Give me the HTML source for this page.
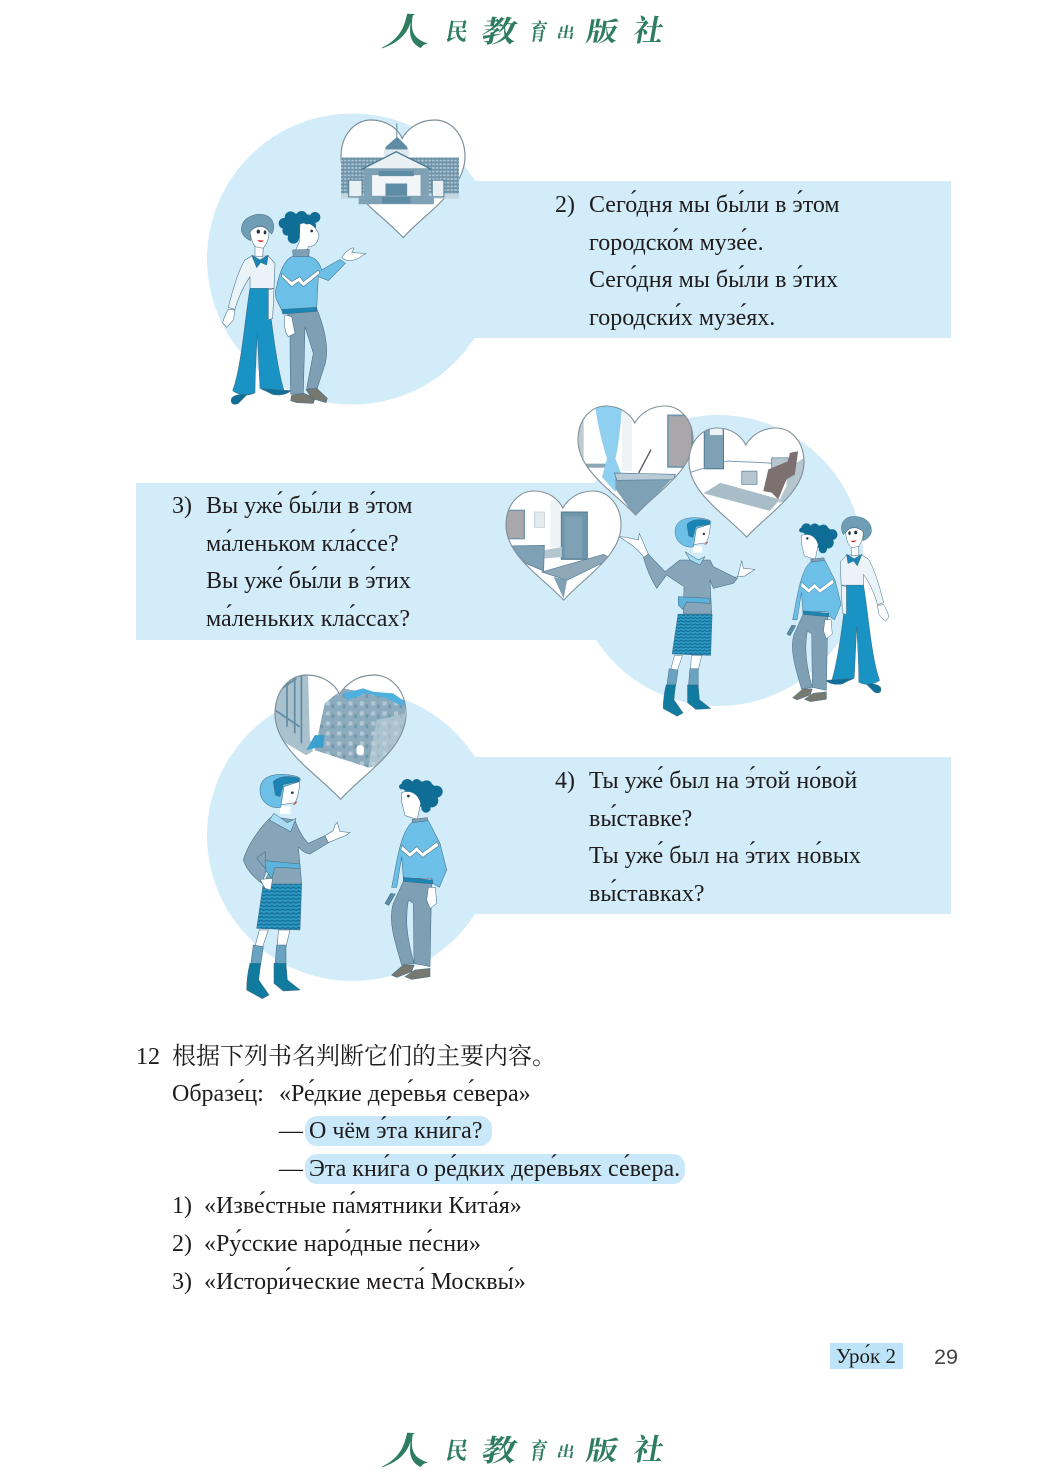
<!DOCTYPE html>
<html><head><meta charset="utf-8"><style>
html,body{margin:0;padding:0;background:#fff}
svg{display:block}
.t{font-family:"Liberation Serif","Noto Serif CJK SC",serif;font-size:24px;fill:#1f1c1d}
.c{font-family:"Liberation Serif","Noto Serif CJK SC",serif;font-size:24px;fill:#1f1c1d}
.l{font-family:"Noto Serif CJK SC","Liberation Serif",serif;fill:#2f7d60;font-weight:700}
</style></head><body>
<svg width="1043" height="1474" viewBox="0 0 1043 1474" xmlns="http://www.w3.org/2000/svg">
<defs>
<path id="h" d="M186,352 C120,280 0,210 0,110 C0,40 45,0 90,0 C135,0 170,25 183,55 C200,25 235,0 280,0 C330,0 371,45 371,110 C371,210 250,280 186,352Z"/>
<clipPath id="hc"><use href="#h"/></clipPath>
<pattern id="win" width="11" height="11" patternUnits="userSpaceOnUse"><rect width="11" height="11" fill="#6f94aa"/><rect x="2" y="3" width="7" height="5" fill="#b4c9d5"/></pattern>
<pattern id="city" width="34" height="30" patternUnits="userSpaceOnUse"><rect width="34" height="30" fill="#8cabbc"/><rect x="4" y="4" width="12" height="12" fill="#b4c8d3"/><rect x="21" y="13" width="8" height="11" fill="#6f96ab"/></pattern>
<pattern id="skirt" width="16" height="22" patternUnits="userSpaceOnUse"><rect width="16" height="22" fill="#2f9ac6"/><path d="M0,7 L8,2 L16,7 M0,18 L8,13 L16,18" stroke="#0f6a90" stroke-width="3.5" fill="none"/></pattern>

<g id="man" stroke="#3f6a82" stroke-width="1.6" stroke-linejoin="round">
<path d="M150,565 L205,565 C210,640 230,800 252,872 C230,882 200,877 180,865 L172,700 C168,770 165,830 165,878 C145,890 115,885 98,872 C125,800 135,650 150,565Z" fill="#1992c4"/>
<path d="M95,895 C100,885 130,880 140,885 L115,910 C100,917 90,910 95,895Z" fill="#0f6f9a"/>
<path d="M185,866 L240,870 L272,872 C260,885 230,888 215,882Z" fill="#0f6f9a"/>
<path d="M135,480 L155,468 L205,468 L225,490 L222,565 L150,565 L150,530 C130,560 115,590 105,628 L85,622 C95,580 115,510 135,480Z" fill="#e9f3f8"/>
<path d="M85,628 L105,630 L100,660 L80,682 L68,668 C72,650 78,640 85,628Z" fill="#fff"/>
<path d="M205,570 L222,565 L218,655 L205,660Z" fill="#e9f3f8"/>
<path d="M150,395 C165,375 195,375 207,395 C207,425 192,450 177,447 C162,442 152,420 150,395Z" fill="#fff"/>
<path d="M165,440 L190,445 L188,470 L165,468Z" fill="#fff"/>
<path d="M125,395 C120,355 160,338 195,345 C225,355 225,385 215,402 L205,392 C190,372 165,377 150,395 L152,422 C135,415 128,405 125,395Z" fill="#6f9db5"/>
<path d="M155,465 L180,480 L205,465 L200,495 L182,487 L170,503Z" fill="#1a85b5"/>
<ellipse cx="175" cy="395" rx="5" ry="6" fill="#234" stroke="none"/><ellipse cx="195" cy="397" rx="4" ry="6" fill="#234" stroke="none"/>
<path d="M172,420 Q182,432 192,422" fill="#c33" stroke="none"/>
</g>

<g id="boyA" stroke="#3f6a82" stroke-width="1.6" stroke-linejoin="round">
<path d="M250,630 L350,625 C372,680 388,740 376,790 L350,870 L320,865 L340,760 L315,680 L310,882 L272,882 C270,800 270,720 270,650Z" fill="#7f9fb5"/>
<path d="M275,885 L312,880 L345,895 L340,910 L290,908 L272,902Z" fill="#777870"/>
<path d="M318,868 L350,865 L382,895 L378,908 L335,895Z" fill="#777870"/>
<g fill="#0f6d96" stroke="none"><ellipse cx="298" cy="378" rx="50" ry="38"/><circle cx="252" cy="370" r="16"/><circle cx="272" cy="352" r="18"/><circle cx="262" cy="392" r="15"/><circle cx="280" cy="414" r="17"/></g>
<path d="M300,372 C320,364 345,370 357,405 C355,430 340,440 325,440 L320,455 L285,455 L298,425Z" fill="#fff"/>
<g fill="#0f6d96" stroke="none"><circle cx="305" cy="350" r="17"/><circle cx="345" cy="352" r="16"/><circle cx="322" cy="358" r="15"/></g>
<circle cx="335" cy="393" r="4" fill="#234" stroke="none"/>
<path d="M278,450 L328,448 L326,472 L280,476Z" fill="#7f9fb5"/>
<path d="M275,470 L325,470 C345,470 360,490 365,510 L420,478 L436,490 L385,542 L355,530 L350,625 L245,630 C230,600 220,590 230,560 C240,510 255,480 275,470Z" fill="#6cc0e8"/>
<path d="M245,520 L275,545 L300,530 L310,545 L355,510 L360,520 L310,560 L295,545 L275,560 L245,530Z" fill="#fff"/>
<path d="M245,628 L350,622 L350,634 L248,642Z" fill="#1a85b5"/>
<path d="M425,472 C440,450 460,440 462,445 L455,458 L498,460 L480,472 C460,484 440,487 425,472Z" fill="#fff"/>
<path d="M255,645 L275,650 L285,700 L265,710 C255,700 250,670 255,645Z" fill="#fff"/>
</g>

<g id="boyB" stroke="#3f6a82" stroke-width="1.6" stroke-linejoin="round">
<path d="M612,630 L695,630 L690,890 L642,880 L640,700 L625,690 C615,750 620,800 642,880 L605,885 C580,800 565,750 580,700Z" fill="#7f9fb5"/>
<path d="M575,915 L610,885 L642,885 L635,905 L590,922Z" fill="#777870"/>
<path d="M615,920 L645,900 L690,895 L690,920 L635,928Z" fill="#777870"/>
<g fill="#0f6d96" stroke="none"><ellipse cx="665" cy="372" rx="50" ry="38"/><circle cx="710" cy="365" r="18"/><circle cx="695" cy="392" r="20"/><circle cx="678" cy="414" r="14"/></g>
<path d="M605,368 C630,358 655,370 662,400 L652,448 L615,437 L605,395Z" fill="#fff"/>
<g fill="#0f6d96" stroke="none"><circle cx="622" cy="345" r="18"/><circle cx="650" cy="342" r="15"/><circle cx="680" cy="348" r="17"/><circle cx="605" cy="350" r="8"/></g>
<circle cx="625" cy="378" r="4" fill="#234" stroke="none"/>
<path d="M636,448 L682,443 L685,470 L642,478Z" fill="#7f9fb5"/>
<path d="M635,458 L685,452 L720,520 L740,600 L718,652 L698,640 L695,625 L610,625 L605,560 L590,652 L575,652 C590,580 600,490 635,458Z" fill="#6cc0e8"/>
<path d="M605,525 L630,548 L650,530 L668,548 L712,515 L716,528 L668,562 L650,545 L630,562 L603,540Z" fill="#fff"/>
<path d="M610,622 L698,630 L698,642 L610,634Z" fill="#1a85b5"/>
<path d="M685,652 L706,652 L710,700 L690,716 L680,690Z" fill="#fff"/>
<path d="M572,670 L586,672 L566,706 L555,700Z" fill="#5f8ca5"/>
</g>

<g id="womanLegs" stroke="#3f6a82" stroke-width="1.6" stroke-linejoin="round">
<path d="M178,780 L205,780 L188,830 L165,830Z M235,780 L270,780 L258,830 L232,830Z" fill="#fff"/>
<path d="M160,825 L190,830 L182,885 L152,885Z M230,825 L258,825 L258,885 L225,885Z" fill="#6aa3bf"/>
<path d="M150,880 L182,880 L176,930 L207,975 L187,986 L140,960 C140,930 145,900 150,880Z" fill="#117a9f"/>
<path d="M222,880 L258,880 L262,930 L300,960 L250,963 L222,940Z" fill="#117a9f"/>
<path d="M190,640 L305,640 L300,780 L170,775Z" fill="url(#skirt)"/>
</g>

<g id="womanTop" stroke="#3f6a82" stroke-width="1.6" stroke-linejoin="round">
<path d="M240,408 L272,410 L270,432 L240,432Z" fill="#fff" stroke="none"/>
<path d="M237,405 L285,398 C295,380 300,345 298,335 L250,345 L238,380Z" fill="#fff"/>
<path d="M180,360 C180,320 220,308 270,315 C300,320 305,325 298,335 L252,350 L242,412 C210,417 180,395 180,360Z" fill="#6cc0e8"/>
<path d="M220,335 C235,318 270,316 298,325 L296,335 L250,343 L240,380 L226,375Z" fill="#1a85b5"/>
<circle cx="277" cy="368" r="4" fill="#234" stroke="none"/>
<path d="M290,395 Q283,405 280,402" fill="none" stroke="#c33" stroke-width="3"/>
</g>

<g id="logo">
<text class="l" transform="translate(381,45) skewX(-14) scale(1.15,.92)" font-size="41">人</text>
<text class="l" transform="translate(445,40) skewX(-10) scale(.9,1)" font-size="24">民</text>
<text class="l" transform="translate(480,42) skewX(-12) scale(1.15,1)" font-size="30">教</text>
<text class="l" transform="translate(529,40) skewX(-8) scale(.8,1.1)" font-size="21">育</text>
<text class="l" transform="translate(556,38) skewX(-10) scale(1,.85)" font-size="18">出</text>
<text class="l" transform="translate(585,41) skewX(-10) scale(1.12,.95)" font-size="28">版</text>
<text class="l" transform="translate(632,41) skewX(-10)" font-size="30">社</text>
</g>
</defs>

<rect width="1043" height="1474" fill="#fff"/>

<use href="#logo"/>
<use href="#logo" y="1419"/>

<!-- backgrounds -->
<g fill="#d3ecfa">
<circle cx="352.5" cy="259" r="145.5"/><rect x="352" y="181" width="599" height="157"/>
<circle cx="718" cy="560.5" r="145.5"/><rect x="136" y="483" width="582" height="157"/>
<circle cx="352.5" cy="835.5" r="145.5"/><rect x="352" y="757" width="599" height="157"/>
</g>

<!-- Fig 1 -->
<g transform="translate(200,100) scale(.33333)">
<use href="#man"/><use href="#boyA"/>
</g>
<g transform="translate(341,120) scale(.3342)">
<use href="#h" fill="#fff" stroke="#7f8f98" stroke-width="3.5"/>
<g transform="translate(-422,-60)">
<rect x="422" y="172" width="353" height="123" fill="url(#win)"/>
<rect x="422" y="280" width="353" height="15" fill="#c5d6df"/>
<line x1="589" y1="70" x2="589" y2="125" stroke="#5f8ca5" stroke-width="3"/>
<path d="M550,165 L556,140 L590,110 L620,140 L625,165Z" fill="#5f8ca5"/>
<rect x="550" y="148" width="75" height="20" fill="#dfe9ee"/>
<path d="M485,207 L587,155 L692,207Z" fill="#e8f0f4" stroke="#4f7a92" stroke-width="4"/>
<rect x="490" y="207" width="195" height="80" fill="#7fa1b5"/>
<rect x="515" y="225" width="145" height="62" fill="#f2f6f8"/>
<rect x="535" y="212" width="105" height="16" fill="#5f8ca5"/>
<rect x="555" y="250" width="65" height="37" fill="#5f8ca5"/>
<rect x="445" y="240" width="40" height="50" fill="#e8f0f4" stroke="#4f7a92" stroke-width="3"/>
<rect x="695" y="240" width="35" height="50" fill="#e8f0f4" stroke="#4f7a92" stroke-width="3"/>
<rect x="475" y="287" width="225" height="25" fill="#7fa1b5"/>
<rect x="545" y="290" width="85" height="20" fill="#5f8ca5"/>
</g>
</g>

<!-- Fig 2 figures -->
<g transform="translate(500,400) scale(.33333)">
<g transform="translate(1230,30) scale(-.93,.93)"><use href="#man"/></g>
<g transform="translate(372,79) scale(.88,.89)"><use href="#boyB"/></g>
<g transform="translate(365,76) scale(.89,.885)"><use href="#womanLegs"/><use href="#womanTop"/></g>
<g stroke="#3f6a82" stroke-width="1.6" stroke-linejoin="round">
<path d="M430,470 L445,462 L495,515 L540,480 L630,480 L640,500 L700,530 L712,535 L700,550 L640,565 L630,540 L635,640 L550,640 L552,560 L500,525 L470,565 C455,540 440,510 430,470Z" fill="#87a5b8"/>
<path d="M555,455 L595,480 L615,470 L600,495 L570,480Z" fill="#a9dcf4"/>
<path d="M535,590 L630,595 L630,610 L560,606 L548,628 L535,615Z" fill="#5db3dc"/>
<path d="M432,472 L445,462 L435,440 L418,400 L415,420 L380,412 L358,410 L395,435 C410,445 420,458 432,472Z" fill="#fff"/>
<path d="M702,532 L712,535 L725,482 L730,505 L765,508 L735,528 L715,530Z" fill="#fff"/>
</g>
</g>

<!-- hearts fig 2 -->
<g transform="translate(578,406) scale(.31)">
<use href="#h" fill="#fff"/>
<g clip-path="url(#hc)"><g transform="scale(1.075) translate(-233,-17)">
<rect x="235" y="17" width="15" height="185" fill="#bfc9cf"/>
<rect x="250" y="190" width="70" height="12" fill="#8aa5b5"/>
<rect x="365" y="17" width="30" height="195" fill="#eef3f6"/>
<rect x="503" y="45" width="72" height="155" fill="#a9a7aa" stroke="#6e97ad" stroke-width="5"/>
<path d="M285,17 L365,17 C360,100 350,160 345,175 L365,225 L345,275 L305,230 L320,175 C300,110 290,60 285,17Z" fill="#8fd0f0"/>
<path d="M345,225 L525,225 L405,350 L345,265Z" fill="#7fa1b5"/>
<path d="M342,218 L525,222 L520,238 L350,240Z" fill="#b9cbd6" stroke="#4f7a92" stroke-width="2"/>
<line x1="415" y1="218" x2="452" y2="148" stroke="#556" stroke-width="4"/>
</g></g>
<use href="#h" fill="none" stroke="#7f8f98" stroke-width="3.5"/>
</g>
<g transform="translate(689,428) scale(.31)">
<use href="#h" fill="#fff"/>
<g clip-path="url(#hc)"><g transform="scale(1.07) translate(-566,-85)">
<rect x="612" y="90" width="58" height="118" fill="#7fa1b5" stroke="#4f7a92" stroke-width="3"/>
<rect x="628" y="85" width="40" height="22" fill="#eef3f6" stroke="#8aa5b5" stroke-width="2"/>
<path d="M566,220 L680,185 L800,190 L915,200" fill="none" stroke="#7f9fb5" stroke-width="3"/>
<path d="M610,282 L660,250 L840,300 L810,335Z" fill="#a9bdc9"/>
<rect x="725" y="215" width="46" height="40" fill="#b5c6d0" stroke="#4f7a92" stroke-width="2"/>
<rect x="815" y="175" width="50" height="30" fill="#b5c6d0" stroke="#4f7a92" stroke-width="2"/>
<path d="M860,210 L913,175 L913,300 L835,310 L860,260Z" fill="#b6c6cf"/>
<path d="M790,275 L805,210 L865,185 L870,160 L895,155 L885,225 L860,240 L835,300 L815,280Z" fill="#7c7170"/>
</g></g>
<use href="#h" fill="none" stroke="#7f8f98" stroke-width="3.5"/>
</g>
<g transform="translate(506,491) scale(.31)">
<use href="#h" fill="#fff"/>
<g clip-path="url(#hc)"><g transform="scale(1.075) translate(-17,-272)">
<rect x="17" y="330" width="55" height="85" fill="#a9a7aa" stroke="#6e97ad" stroke-width="4"/>
<rect x="102" y="335" width="30" height="46" fill="#e4ecf0" stroke="#b5c6d0" stroke-width="2"/>
<rect x="150" y="300" width="30" height="140" fill="#eef3f6"/>
<rect x="183" y="335" width="78" height="142" fill="#6f97ac" stroke="#4f7a92" stroke-width="3"/>
<rect x="193" y="348" width="52" height="125" fill="#7fa1b5"/>
<path d="M130,450 L185,440 L185,470 L130,475Z" fill="#b5c6d0"/>
<path d="M28,437 L132,435 L130,512 L60,482Z" fill="#7fa1b5" stroke="#4f7a92" stroke-width="2"/>
<path d="M125,515 L310,462 L332,475 L200,540Z" fill="#8fa8b8" stroke="#4f7a92" stroke-width="2"/>
<path d="M160,530 L190,595 L200,540 Z" fill="#7fa1b5"/>
</g></g>
<use href="#h" fill="none" stroke="#7f8f98" stroke-width="3.5"/>
</g>

<!-- Fig 3 -->
<g transform="translate(275,675) scale(.3531)">
<use href="#h" fill="#fff"/>
<g clip-path="url(#hc)"><g transform="scale(.9464) translate(-226,-15)">
<path d="M226,15 L300,15 L325,15 L330,200 L345,270 L226,200Z" fill="#a9c0cd"/>
<path d="M240,60 L290,25 M262,30 L262,170 M285,30 L285,190 M305,15 L305,220 M226,120 L300,170" stroke="#5f8ca5" stroke-width="5" fill="none"/>
<path d="M375,100 L430,55 L615,90 L615,270 L505,292 L345,240Z" fill="url(#city)"/>
<path d="M530,150 L615,130 L615,270 L505,292Z" fill="#c4d5de" opacity=".55"/>
<path d="M430,70 L490,55 L520,65 L580,70 L615,95 L610,110 L560,85 L500,70 L440,90Z" fill="#4fb0de"/>
<path d="M320,240 L345,195 L375,195 L370,230 L340,235Z" fill="#3b9fcf"/>
<rect x="470" y="225" width="22" height="30" rx="10" fill="#fff"/>
<path d="M345,240 L505,292 L420,385 L310,260Z" fill="#fff"/>
</g></g>
<use href="#h" fill="none" stroke="#7f8f98" stroke-width="3.2"/>
</g>
<g transform="translate(200,670) scale(.33333)">
<use href="#boyB"/>
<use href="#womanLegs"/>
<g stroke="#3f6a82" stroke-width="1.6" stroke-linejoin="round">
<path d="M215,440 L285,450 C295,480 310,505 325,520 L375,497 L388,517 L330,552 C315,550 303,540 295,530 L305,642 L190,642 L207,608 L170,565 L195,545 L200,600 L185,640 C160,620 140,600 130,570 C140,530 180,470 215,440Z" fill="#87a5b8"/>
<path d="M222,430 L262,458 L288,445 L272,485 L235,465 L208,450Z" fill="#a9dcf4"/>
<path d="M195,572 L300,582 L300,595 L225,592 L215,625 L197,600Z" fill="#5db3dc"/>
<path d="M180,628 L218,625 L212,660 L195,655Z" fill="#fff"/>
<path d="M375,497 L385,518 L440,495 L450,487 L420,485 L412,457 L405,465 L400,482 Z" fill="#fff"/>
</g>
<use href="#womanTop"/>
</g>

<!-- Texts -->
<text class="t" x="555" y="212">2)</text>
<text class="t" x="589" y="212">Сего́дня мы бы́ли в э́том</text>
<text class="t" x="589" y="250">городско́м музе́е.</text>
<text class="t" x="589" y="287">Сего́дня мы бы́ли в э́тих</text>
<text class="t" x="589" y="325">городски́х музе́ях.</text>

<text class="t" x="172" y="513">3)</text>
<text class="t" x="206" y="513">Вы уже́ бы́ли в э́том</text>
<text class="t" x="206" y="551">ма́леньком кла́ссе?</text>
<text class="t" x="206" y="588">Вы уже́ бы́ли в э́тих</text>
<text class="t" x="206" y="626">ма́леньких кла́ссах?</text>

<text class="t" x="555" y="788">4)</text>
<text class="t" x="589" y="788">Ты уже́ был на э́той но́вой</text>
<text class="t" x="589" y="826">вы́ставке?</text>
<text class="t" x="589" y="863">Ты уже́ был на э́тих но́вых</text>
<text class="t" x="589" y="901">вы́ставках?</text>

<text class="c" x="136" y="1064">12</text>
<text class="c" x="172" y="1064">根据下列书名判断它们的主要内容。</text>
<text class="t" x="172" y="1101">Образе́ц:</text>
<text class="t" x="279" y="1101">«Ре́дкие дере́вья се́вера»</text>
<rect x="305" y="1116" width="187" height="30" rx="12" fill="#c9e8f9"/>
<rect x="305" y="1154" width="380" height="30" rx="12" fill="#c9e8f9"/>
<text class="t" x="279" y="1138">—</text>
<text class="t" x="309" y="1138">О чём э́та кни́га?</text>
<text class="t" x="279" y="1176">—</text>
<text class="t" x="309" y="1176">Эта кни́га о ре́дких дере́вьях се́вера.</text>
<text class="t" x="172" y="1213">1)</text>
<text class="t" x="204" y="1213">«Изве́стные па́мятники Кита́я»</text>
<text class="t" x="172" y="1251">2)</text>
<text class="t" x="204" y="1251">«Ру́сские наро́дные пе́сни»</text>
<text class="t" x="172" y="1289">3)</text>
<text class="t" x="204" y="1289">«Истори́ческие места́ Москвы́»</text>

<rect x="830" y="1343" width="73" height="26" fill="#bde3f8"/>
<text x="836" y="1363" font-family="Liberation Serif, serif" font-size="21" fill="#1f1c1d">Уро́к 2</text>
<text x="934" y="1364" font-family="Liberation Sans, sans-serif" font-size="21.6" fill="#444">29</text>
</svg>
</body></html>
